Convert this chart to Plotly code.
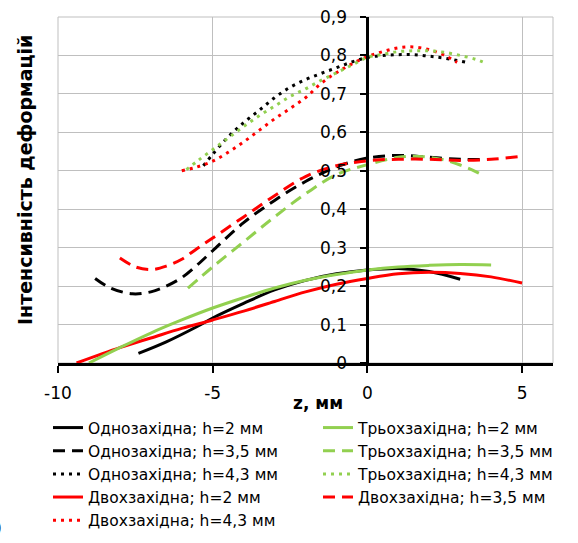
import plotly.graph_objects as go

# ---------------- data ----------------
x_o2 = [-7.4, -6.5, -5.5, -5.0, -4.0, -3.0, -2.0, -1.0, 0.0, 1.0, 2.0, 3.0]
y_o2 = [0.025, 0.055, 0.095, 0.117, 0.155, 0.19, 0.215, 0.232, 0.242, 0.246, 0.238, 0.218]

x_t2 = [-9.0, -8.0, -7.0, -6.0, -5.0, -4.0, -3.0, -2.0, -1.0, 0.0, 1.0, 2.0, 3.0, 4.0]
y_t2 = [0.0, 0.04, 0.078, 0.112, 0.143, 0.17, 0.195, 0.215, 0.23, 0.242, 0.25, 0.254, 0.256, 0.255]

x_d2 = [-9.4, -8.0, -7.0, -6.0, -5.0, -4.0, -3.0, -2.0, -1.0, 0.0, 1.0, 2.0, 3.0, 4.0, 5.0]
y_d2 = [0.0, 0.04, 0.065, 0.09, 0.112, 0.135, 0.16, 0.185, 0.205, 0.22, 0.232, 0.236, 0.233, 0.224, 0.208]

x_o35 = [-8.8, -8.3, -7.6, -7.0, -6.5, -6.0, -5.5, -5.0, -4.0, -3.0, -2.0, -1.0, 0.0, 1.0, 2.0, 3.0, 3.7]
y_o35 = [0.22, 0.195, 0.18, 0.185, 0.2, 0.222, 0.255, 0.292, 0.365, 0.423, 0.472, 0.51, 0.533, 0.54, 0.535, 0.53, 0.529]

x_t35 = [-5.8, -5.0, -4.0, -3.0, -2.0, -1.0, 0.0, 1.0, 1.5, 2.0, 2.5, 3.0, 3.5, 3.8]
y_t35 = [0.195, 0.25, 0.315, 0.38, 0.44, 0.49, 0.516, 0.535, 0.538, 0.535, 0.528, 0.515, 0.498, 0.485]

x_d35 = [-8.0, -7.5, -7.0, -6.5, -6.0, -5.5, -5.0, -4.0, -3.0, -2.0, -1.0, 0.0, 1.0, 2.0, 3.0, 4.0, 4.9]
y_d35 = [0.273, 0.25, 0.243, 0.252, 0.27, 0.298, 0.325, 0.38, 0.435, 0.485, 0.513, 0.526, 0.53, 0.53, 0.527, 0.53, 0.537]

x_o43 = [-5.3, -5.0, -4.5, -4.0, -3.5, -3.0, -2.5, -2.0, -1.5, -1.0, -0.5, 0.0, 0.5, 1.0, 1.5, 2.0, 2.5, 3.2]
y_o43 = [0.513, 0.543, 0.588, 0.625, 0.657, 0.69, 0.717, 0.737, 0.753, 0.768, 0.783, 0.795, 0.8, 0.802, 0.802, 0.798, 0.793, 0.782]

x_t43 = [-5.85, -5.5, -5.0, -4.5, -4.0, -3.5, -3.0, -2.5, -2.0, -1.5, -1.0, -0.5, 0.0, 0.5, 1.0, 1.5, 2.0, 2.5, 3.0, 3.5, 3.8]
y_t43 = [0.503, 0.525, 0.555, 0.585, 0.615, 0.643, 0.668, 0.693, 0.713, 0.735, 0.755, 0.775, 0.795, 0.803, 0.81, 0.812, 0.812, 0.808, 0.8, 0.79, 0.781]

x_d43 = [-6.0, -5.5, -5.0, -4.5, -4.0, -3.5, -3.0, -2.5, -2.0, -1.5, -1.0, -0.5, 0.0, 0.5, 1.0, 1.5, 2.0, 2.5, 2.9]
y_d43 = [0.5, 0.51, 0.525, 0.548, 0.575, 0.605, 0.635, 0.662, 0.69, 0.727, 0.755, 0.778, 0.797, 0.81, 0.82, 0.822, 0.815, 0.8, 0.782]

x_tickvals = [-10, -5, 0, 5]
x_ticktext = ["-10", "-5", "0", "5"]
y_tickvals = [0, 0.1, 0.2, 0.3, 0.4, 0.5, 0.6, 0.7, 0.8, 0.9]
y_ticktext = ["0", "0,1", "0,2", "0,3", "0,4", "0,5", "0,6", "0,7", "0,8", "0,9"]

x_title = "z, мм"
y_title = "Інтенсивність деформацій"

BLACK = "#000000"
RED = "#FF0000"
GREEN = "#92D050"
DASH = "12px,7px"
DOT = "3px,5px"

series = [
    # name, x, y, color, dash, legend
    ("Однозахідна; h=2 мм", x_o2, y_o2, BLACK, "solid", "legend"),
    ("Однозахідна; h=3,5 мм", x_o35, y_o35, BLACK, DASH, "legend"),
    ("Однозахідна; h=4,3 мм", x_o43, y_o43, BLACK, DOT, "legend"),
    ("Двохзахідна; h=2 мм", x_d2, y_d2, RED, "solid", "legend"),
    ("Двохзахідна; h=4,3 мм", x_d43, y_d43, RED, DOT, "legend"),
    ("Трьохзахідна; h=2 мм", x_t2, y_t2, GREEN, "solid", "legend2"),
    ("Трьохзахідна; h=3,5 мм", x_t35, y_t35, GREEN, DASH, "legend2"),
    ("Трьохзахідна; h=4,3 мм", x_t43, y_t43, GREEN, DOT, "legend2"),
    ("Двохзахідна; h=3,5 мм", x_d35, y_d35, RED, DASH, "legend2"),
]

FONT = "DejaVu Sans"
W, H = 578, 543
ML, MR, MT, MB = 58, 25, 17, 180
PW, PH = W - ML - MR, H - MT - MB


def px_x(px):
    return (px - ML) / PW


def px_y(py):
    return (H - MB - py) / PH


fig = go.Figure()
for name, xs, ys, col, dash, lg in series:
    fig.add_trace(go.Scatter(
        x=xs, y=ys, name=name, mode="lines",
        line=dict(color=col, width=3, dash=dash, shape="spline", smoothing=1.0),
        legend=lg,
    ))

fig.update_layout(
    width=W, height=H,
    margin=dict(l=ML, r=MR, t=MT, b=MB, autoexpand=False),
    paper_bgcolor="white", plot_bgcolor="white",
    font=dict(family=FONT, size=16, color="#000000"),
    showlegend=True,
    xaxis=dict(
        range=[-10, 6], tickvals=x_tickvals, ticktext=x_ticktext,
        showgrid=True, gridcolor="#BFBFBF", gridwidth=1,
        zeroline=False, automargin=False,
        showline=True, linecolor="black", linewidth=3,
        ticks="outside", ticklen=7, tickwidth=2, tickcolor="black",
        ticklabelstandoff=6,
        tickfont=dict(family=FONT, size=17),
    ),
    yaxis=dict(
        range=[0, 0.9], tickvals=y_tickvals, ticktext=y_ticktext,
        showgrid=True, gridcolor="#BFBFBF", gridwidth=1,
        zeroline=False, automargin=False,
        anchor="free", position=0.625,
        showline=True, linecolor="black", linewidth=3,
        ticks="outside", ticklen=6, tickwidth=2, tickcolor="black",
        ticklabelstandoff=10,
        tickfont=dict(family=FONT, size=17),
    ),
    legend=dict(
        x=px_x(48), y=px_y(411),
        xanchor="left", yanchor="top", orientation="v",
        font=dict(family=FONT, size=15.5), bgcolor="rgba(0,0,0,0)",
        itemwidth=30, tracegroupgap=0,
    ),
    legend2=dict(
        x=px_x(318), y=px_y(411),
        xanchor="left", yanchor="top", orientation="v",
        font=dict(family=FONT, size=15.5), bgcolor="rgba(0,0,0,0)",
        itemwidth=30, tracegroupgap=0,
    ),
    shapes=[dict(type="rect", xref="paper", yref="paper", x0=0, x1=1, y0=0, y1=1,
                 line=dict(color="#BFBFBF", width=1), layer="below")],
    annotations=[
        dict(text=f"<b>{x_title}</b>", xref="paper", yref="paper",
             x=px_x(318), y=px_y(403), showarrow=False, xanchor="center", yanchor="middle",
             font=dict(family=FONT, size=17)),
        dict(text=f"<b>{y_title}</b>", xref="paper", yref="paper",
             x=px_x(25), y=px_y(180), showarrow=False, textangle=-90,
             xanchor="center", yanchor="middle",
             font=dict(family=FONT, size=19)),
        dict(text="б)", xref="paper", yref="paper",
             x=px_x(4), y=px_y(527), showarrow=False, xanchor="right", yanchor="middle",
             font=dict(family=FONT, size=18)),
    ],
)

fig.write_html("out.html")
